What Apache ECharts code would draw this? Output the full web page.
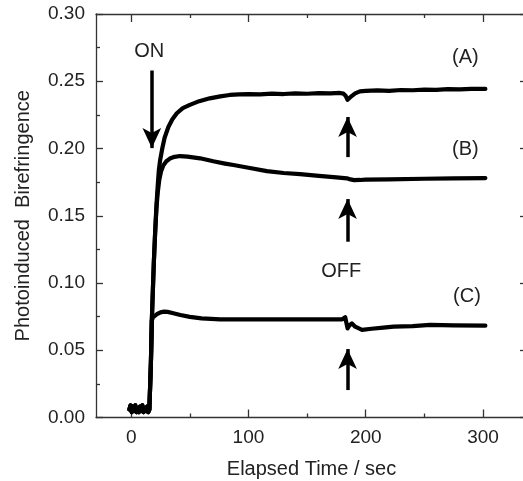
<!DOCTYPE html>
<html>
<head>
<meta charset="utf-8">
<script src="https://cdn.jsdelivr.net/npm/echarts@6/dist/echarts.min.js"></script>
<style>
    html, body { margin: 0; padding: 0; background: #fff; }
    #chart { width: 523px; height: 481px; }
</style>
</head>
<body>
<div id="chart"></div>
<script>
// dark period before the pump light is switched on (all three films)
const baseline = [[-1.5, 0.006], [-0.5, 0.009], [0.5, 0.004], [1.5, 0.008], [2.5, 0.005], [3.5, 0.009],
    [4.5, 0.004], [5.5, 0.007], [6.5, 0.004], [7.5, 0.008], [8.5, 0.005], [9.5, 0.009], [10.5, 0.004],
    [11.5, 0.007], [12.5, 0.005], [13.5, 0.008], [14.5, 0.004], [15.5, 0.006]]
const riseShared = [[16.1, 0.005], [16.8, 0.04], [17.6, 0.072]]

const tailA = [[18.3, 0.09], [19.3, 0.115], [20.4, 0.137], [21.5, 0.157], [22.6, 0.172], [23.6, 0.184],
    [24.7, 0.1914], [26.5, 0.2], [28.5, 0.208], [31.7, 0.216], [35, 0.2215], [38.9, 0.2262], [44, 0.23],
    [50, 0.2324], [58, 0.2352], [67, 0.2373], [76, 0.2388], [84, 0.2398], [92, 0.2402], [100, 0.2405],
    [110, 0.2402], [120, 0.2408], [130, 0.2405], [140, 0.241], [150, 0.2407], [160, 0.2412], [170, 0.241],
    [178, 0.2413], [181, 0.2408], [183, 0.239], [184.5, 0.2362], [186, 0.2368], [188, 0.239], [191, 0.241],
    [195, 0.2425], [200, 0.2428], [210, 0.2432], [220, 0.2429], [230, 0.2435], [240, 0.2433], [250, 0.2438],
    [260, 0.2436], [270, 0.2442], [280, 0.2439], [290, 0.2444], [302, 0.2443]]

const tailB = [[18.3, 0.09], [19.3, 0.115], [20.4, 0.137], [21.5, 0.155], [22.6, 0.167], [24, 0.177],
    [25.5, 0.183], [27.5, 0.1875], [30, 0.1905], [33, 0.1925], [37, 0.1938], [41.7, 0.1944], [48, 0.194],
    [58.8, 0.1927], [70, 0.1905], [80, 0.1888], [87.2, 0.1877], [100, 0.1857], [115.7, 0.1832], [130, 0.1818],
    [144, 0.181], [160, 0.1797], [175, 0.1786], [184, 0.1778], [187, 0.177], [190, 0.1765], [195, 0.1766],
    [200, 0.1768], [220, 0.177], [250, 0.1775], [275, 0.1778], [302, 0.178]]

const tailC = [[18.6, 0.0745], [20, 0.0755], [22, 0.0768], [25, 0.0782], [28, 0.0787], [31, 0.0785],
    [36, 0.0775], [42, 0.0762], [50, 0.0748], [60, 0.0737], [76, 0.073], [100, 0.0729], [130, 0.073],
    [160, 0.0729], [180, 0.073], [182.5, 0.0745], [184.5, 0.0663], [186, 0.0685], [188.2, 0.07], [191, 0.0675],
    [196.8, 0.0652], [205, 0.066], [215, 0.0668], [223.7, 0.0675], [240, 0.068], [255, 0.0688], [275, 0.0685],
    [302, 0.0683]]

const xMajor = [0, 100, 200, 300]
const xMinor = [50, 150, 250]

// arrows: [from, to] in data units, the head sits on "to"
const arrowOn = [[17.6, 0.258], [17.6, 0.2003]]
const arrowsOff = [
    [[184.5, 0.1936], [184.5, 0.2234]],
    [[184.5, 0.1307], [184.5, 0.1624]],
    [[184.5, 0.0204], [184.5, 0.0509]]
]
const notes = [
    { text: 'ON', x: 15.3, y: 0.2719 },
    { text: 'OFF', x: 179.1, y: 0.1084 },
    { text: '(A)', x: 284.9, y: 0.268 },
    { text: '(B)', x: 284.9, y: 0.1996 },
    { text: '(C)', x: 286.3, y: 0.0898 }
]

const FONT = 'Liberation Sans, Arial, Helvetica, sans-serif'
const LINE = { color: '#333', width: 1.3 }

function xAxis(position, ticks, len, main) {
    return {
        type: 'value',
        position: position,
        min: -30,
        max: 337.5,
        axisLine: { show: main, onZero: false, lineStyle: LINE },
        axisTick: { show: true, inside: true, length: len, customValues: ticks, lineStyle: LINE },
        axisLabel: position === 'bottom' && main ? {
            show: true, customValues: xMajor, color: '#222', fontSize: 19, fontFamily: FONT, margin: 11
        } : { show: false },
        splitLine: { show: false },
        name: position === 'bottom' && main ? 'Elapsed Time / sec' : '',
        nameLocation: 'middle',
        nameGap: 42,
        nameTextStyle: { color: '#222', fontSize: 20, fontFamily: FONT }
    }
}

function yAxis(position) {
    return {
        type: 'value',
        position: position,
        min: 0,
        max: 0.3,
        interval: 0.05,
        axisLine: { show: true, onZero: false, lineStyle: LINE },
        axisTick: { show: true, inside: true, length: 7, lineStyle: LINE },
        minorTick: { show: true, splitNumber: 2, length: 4, lineStyle: LINE },
        axisLabel: position === 'left' ? {
            show: true, color: '#222', fontSize: 19, fontFamily: FONT, margin: 11,
            formatter: (v) => v.toFixed(2)
        } : { show: false },
        splitLine: { show: false },
        minorSplitLine: { show: false },
        name: position === 'left' ? 'Photoinduced  Birefringence' : '',
        nameLocation: 'middle',
        nameGap: 63,
        nameTextStyle: { color: '#222', fontSize: 20, fontFamily: FONT }
    }
}

function curve(name, tail, extra) {
    return Object.assign({
        name: name,
        type: 'line',
        xAxisIndex: 0,
        yAxisIndex: 0,
        data: baseline.concat(riseShared, tail),
        showSymbol: false,
        symbol: 'none',
        lineStyle: { color: '#000', width: 4.2, join: 'round', cap: 'round' },
        z: 3
    }, extra || {})
}

let chart = echarts.init(document.getElementById('chart'))
let option = {
    animation: false,
    backgroundColor: '#fff',
    grid: { left: 96, top: 14, width: 431, height: 403.5, containLabel: false, outerBoundsMode: 'none' },
    xAxis: [
        xAxis('bottom', xMajor, 8, true),
        xAxis('bottom', xMinor, 4, false),
        xAxis('top', xMajor, 8, true),
        xAxis('top', xMinor, 4, false)
    ],
    yAxis: [yAxis('left'), yAxis('right')],
    series: [
        curve('A', tailA, {
            markLine: {
                silent: true,
                symbol: ['none', 'arrow'],
                symbolSize: [14, 20],
                lineStyle: { color: '#000', width: 3.5, type: 'solid' },
                label: { show: false },
                data: [arrowOn].concat(arrowsOff).map((a) => [{ coord: a[0] }, { coord: a[1] }])
            },
            markPoint: {
                silent: true,
                symbol: 'circle',
                symbolSize: 1,
                itemStyle: { color: 'rgba(0,0,0,0)' },
                label: {
                    show: true, position: 'inside', color: '#222', fontSize: 20, fontFamily: FONT,
                    formatter: (p) => p.name
                },
                data: notes.map((n) => ({ name: n.text, coord: [n.x, n.y] }))
            }
        }),
        curve('B', tailB),
        curve('C', tailC)
    ]
}
chart.setOption(option)
window.addEventListener('resize', () => {
    chart.resize()
})
</script>
</body>
</html>
